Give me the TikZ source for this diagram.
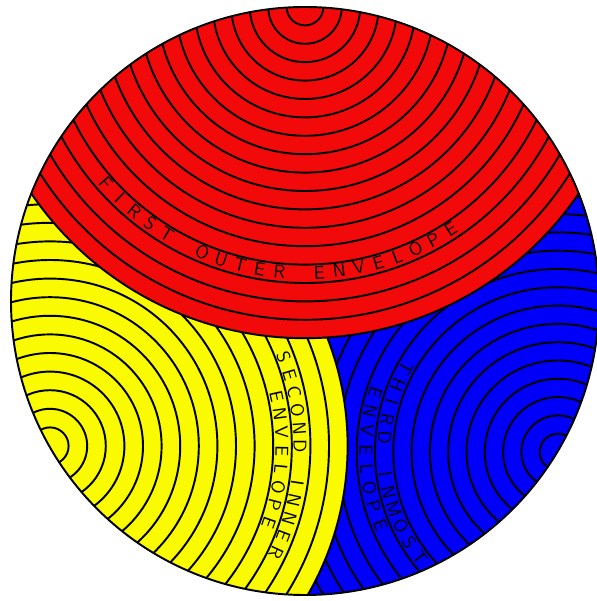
\documentclass[tikz,border=0pt]{standalone}
\usetikzlibrary{calc}

\definecolor{rosso}{RGB}{242,10,10}
\definecolor{giallo}{RGB}{250,250,0}
\definecolor{blu}{RGB}{0,0,250}

\tikzset{
  anello/.style={draw=black, line width=1.1pt},
  lettera/.style={font=\sffamily\fontsize{10.5}{12}\selectfont, inner sep=0pt}
}

\begin{document}
\begin{tikzpicture}[x=0.02cm, y=0.02cm]

  \useasboundingbox (0,0) rectangle (597,601);

  % --- centri ---
  \coordinate (o)  at (305,300);
  \coordinate (cr) at (305,594);
  \coordinate (cy) at (50,155);
  \coordinate (cb) at (558,149);

  \begin{scope}
    \clip (o) circle (294);

    % --- terzo involucro (blu) ---
    \fill[blu] (o) circle (294);
    \foreach \k in {1,...,16}
      \draw[anello] (cb) circle[radius=18.3*\k];

    % --- secondo involucro (giallo) ---
    \fill[giallo] (cy) circle (297.6);
    \foreach \k in {1,...,16}
      \draw[anello] (cy) circle[radius=18.6*\k];

    % --- primo involucro (rosso) ---
    \fill[rosso] (cr) circle (331);
    \foreach \k in {1,...,18}
      \draw[anello] (cr) circle[radius=18.4*\k];
  \end{scope}

  % --- bordo ---
  \draw[line width=1.1pt] (o) circle (294);

  % --- scritta rossa ---
  \foreach \c [count=\i, evaluate=\i as \a using 221.5+(\i-1)*4.3]
      in {F,I,R,S,T,{},O,U,T,E,R,{},E,N,V,E,L,O,P,E}
    \node[lettera, rotate=\a+90] (fr\i) at ($(cr)+(\a:266)$) {\c};

  % --- scritta gialla ---
  \foreach \c [count=\i, evaluate=\i as \a using 20.8-(\i-1)*4.18]
      in {S,E,C,O,N,D,{},I,N,N,E,R}
    \node[lettera, rotate=\a-90] (sy\i) at ($(cy)+(\a:250)$) {\c};
  \foreach \c [count=\i, evaluate=\i as \a using 12.4-(\i-1)*4.53]
      in {E,N,V,E,L,O,P,E}
    \node[lettera, rotate=\a-90] (ey\i) at ($(cy)+(\a:232)$) {\c};

  % --- scritta blu ---
  \foreach \c [count=\i, evaluate=\i as \a using 151.2+(\i-1)*6.01]
      in {T,H,I,R,D,{},I,N,M,O,S,T}
    \node[lettera, rotate=\a+90] (tb\i) at ($(cb)+(\a:174)$) {\c};
  \foreach \c [count=\i, evaluate=\i as \a using 162.1+(\i-1)*5.74]
      in {E,N,V,E,L,O,P,E}
    \node[lettera, rotate=\a+90] (eb\i) at ($(cb)+(\a:192)$) {\c};

\end{tikzpicture}
\end{document}
